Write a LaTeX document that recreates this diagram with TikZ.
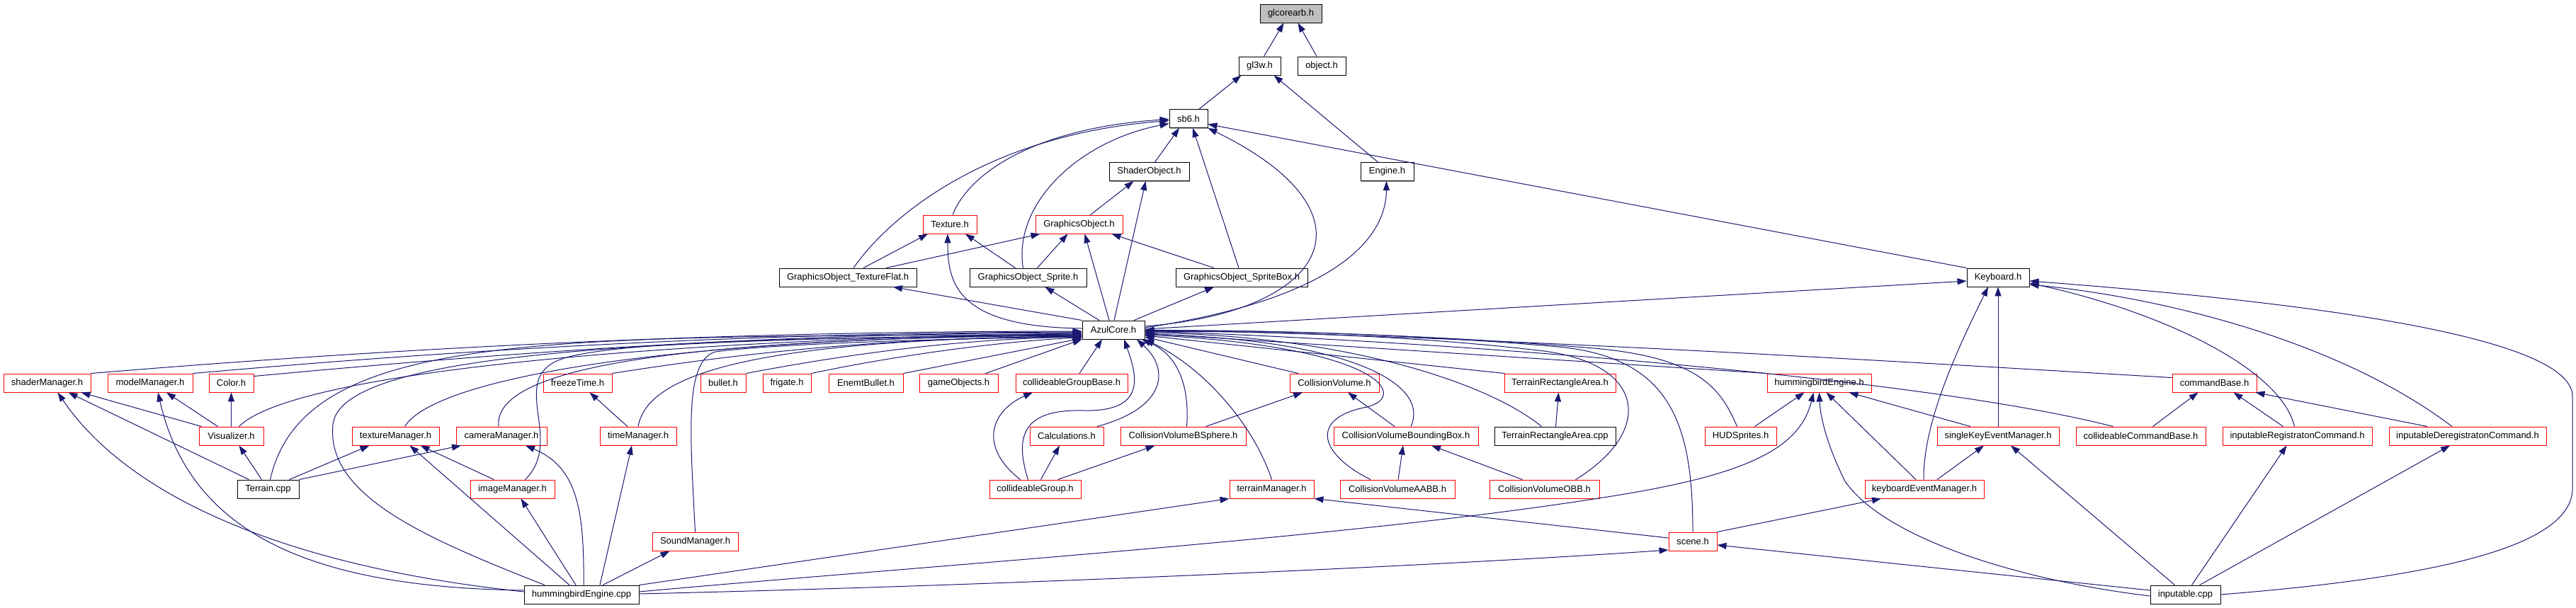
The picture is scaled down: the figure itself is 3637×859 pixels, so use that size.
\documentclass[tikz,border=0pt]{standalone}
\usepackage{fontspec}
\setmainfont{Liberation Sans}
\usetikzlibrary{arrows.meta,shadows}
\definecolor{edgec}{HTML}{191970}
\definecolor{redb}{HTML}{FF0000}
\begin{document}
\begin{tikzpicture}[x=1pt,y=-1pt,
  nbase/.style={line width=0.9pt, fill=white, minimum height=26pt, inner sep=0pt, font=\fontsize{13pt}{15pt}\selectfont},
  bbox/.style={nbase, draw=black, drop shadow={shadow xshift=1.2pt, shadow yshift=-1.2pt, fill=gray!70, opacity=1}},
  rbox/.style={nbase, draw=redb, drop shadow={shadow xshift=1.2pt, shadow yshift=-1.2pt, fill=redb!45, opacity=1}},
  gbox/.style={bbox, fill=gray!50},
  dep/.style={draw=edgec, line width=1pt, -{Triangle[length=13pt,width=9pt]}}]
\fill[white] (0,0) rectangle (3637,859);
\useasboundingbox (0,0) rectangle (3637,859);

% ---------- nodes ----------
\node[gbox, minimum width=87pt] (glcore) at (1822.5,19) {glcorearb.h};
\node[bbox, minimum width=59pt] (gl3w) at (1778.5,93) {gl3w.h};
\node[bbox, minimum width=68pt] (object) at (1866,93) {object.h};
\node[bbox, minimum width=54pt] (sb6) at (1678,167.5) {sb6.h};
\node[bbox, minimum width=113pt] (shaderobj) at (1622.5,242.5) {ShaderObject.h};
\node[bbox, minimum width=75pt] (engine) at (1958.5,242.5) {Engine.h};
\node[rbox, minimum width=76pt] (texture) at (1341,317) {Texture.h};
\node[rbox, minimum width=123pt] (gobj) at (1523.5,317) {GraphicsObject.h};
\node[bbox, minimum width=194pt] (gotf) at (1197,392) {GraphicsObject\_TextureFlat.h};
\node[bbox, minimum width=165pt] (gosprite) at (1451.5,392) {GraphicsObject\_Sprite.h};
\node[bbox, minimum width=186pt] (gospritebox) at (1753,392) {GraphicsObject\_SpriteBox.h};
\node[bbox, minimum width=88pt] (keyboard) at (2821,392) {Keyboard.h};
\node[bbox, minimum width=88pt] (azul) at (1572,466) {AzulCore.h};

\node[rbox, minimum width=123pt] (shaderMgr) at (66.5,541) {shaderManager.h};
\node[rbox, minimum width=120pt] (modelMgr) at (212,541) {modelManager.h};
\node[rbox, minimum width=63pt] (color) at (326.5,541) {Color.h};
\node[rbox, minimum width=97pt] (freeze) at (815.5,541) {freezeTime.h};
\node[rbox, minimum width=64pt] (bullet) at (1021,541) {bullet.h};
\node[rbox, minimum width=68pt] (frigate) at (1111,541) {frigate.h};
\node[rbox, minimum width=105pt] (enemt) at (1222.5,541) {EnemtBullet.h};
\node[rbox, minimum width=111pt] (gameobj) at (1353.5,541) {gameObjects.h};
\node[rbox, minimum width=158pt] (cgbase) at (1513,541) {collideableGroupBase.h};
\node[rbox, minimum width=126pt] (cvol) at (1884,541) {CollisionVolume.h};
\node[rbox, minimum width=157pt] (trah) at (2202.5,541) {TerrainRectangleArea.h};
\node[rbox, minimum width=147pt] (hbeh) at (2568.5,541) {hummingbirdEngine.h};
\node[rbox, minimum width=119pt] (cmdbase) at (3126.5,541) {commandBase.h};

\node[rbox, minimum width=91pt] (visual) at (326.5,616) {Visualizer.h};
\node[rbox, minimum width=123pt] (texmgr) at (558.5,616) {textureManager.h};
\node[rbox, minimum width=128pt] (cammgr) at (708,616) {cameraManager.h};
\node[rbox, minimum width=108pt] (timemgr) at (901,616) {timeManager.h};
\node[rbox, minimum width=104pt] (calc) at (1506,616) {Calculations.h};
\node[rbox, minimum width=177pt] (bsphere) at (1670.5,616) {CollisionVolumeBSphere.h};
\node[rbox, minimum width=204pt] (cvbb) at (1985,616) {CollisionVolumeBoundingBox.h};
\node[bbox, minimum width=171pt] (tracpp) at (2195.5,616) {TerrainRectangleArea.cpp};
\node[rbox, minimum width=101pt] (hud) at (2457.5,616) {HUDSprites.h};
\node[rbox, minimum width=172pt] (singlekey) at (2821,616) {singleKeyEventManager.h};
\node[rbox, minimum width=183pt] (ccbase) at (3022.5,616) {collideableCommandBase.h};
\node[rbox, minimum width=211pt] (ireg) at (3243.5,616) {inputableRegistratonCommand.h};
\node[rbox, minimum width=222pt] (idereg) at (3484,616) {inputableDeregistratonCommand.h};

\node[bbox, minimum width=87pt] (terrain) at (378.5,691) {Terrain.cpp};
\node[rbox, minimum width=119pt] (imagemgr) at (723.5,691) {imageManager.h};
\node[rbox, minimum width=129pt] (cgroup) at (1461.5,691) {collideableGroup.h};
\node[rbox, minimum width=119pt] (terrainmgr) at (1795.5,691) {terrainManager.h};
\node[rbox, minimum width=162pt] (aabb) at (1973,691) {CollisionVolumeAABB.h};
\node[rbox, minimum width=155pt] (obb) at (2180.5,691) {CollisionVolumeOBB.h};
\node[rbox, minimum width=168pt] (kem) at (2717,691) {keyboardEventManager.h};

\node[rbox, minimum width=121pt] (sound) at (981.5,765) {SoundManager.h};
\node[rbox, minimum width=68pt] (scene) at (2390,765) {scene.h};

\node[bbox, minimum width=162pt] (hbcpp) at (821,840) {hummingbirdEngine.cpp};
\node[bbox, minimum width=99pt] (inputable) at (3085.5,840) {inputable.cpp};

% ---------- top edges ----------
\draw[dep] ([xshift=6pt]gl3w.north) -- ([xshift=-10pt]glcore.south);
\draw[dep] ([xshift=-7pt]object.north) -- ([xshift=10pt]glcore.south);
\draw[dep] ([xshift=15pt]sb6.north) -- ([xshift=-26pt]gl3w.south);
\draw[dep] ([xshift=-13pt]engine.north) -- ([xshift=20pt]gl3w.south);
\draw[dep] ([xshift=8pt]shaderobj.north) -- ([xshift=-13pt]sb6.south);
\draw[dep] ([xshift=-4pt]gospritebox.north) -- ([xshift=6pt]sb6.south);
\draw[dep] ([xshift=8pt]gotf.north) .. controls (1260,300) and (1400,190) .. ([yshift=-3pt]sb6.west);
\draw[dep] ([xshift=4pt]texture.north) .. controls (1370,240) and (1470,180) .. ([yshift=-1pt]sb6.west);
\draw[dep] ([xshift=-7pt]gosprite.north) .. controls (1430,290) and (1520,200) .. ([yshift=-7pt]sb6.west);
\draw[dep] ([yshift=5pt]azul.east) .. controls (1880,440) and (1950,300) .. (sb6.south east);
\draw[dep] (keyboard.north west) -- ([yshift=-8pt]sb6.east);
\draw[dep] ([yshift=3pt]azul.east) .. controls (1900,420) and (1957,330) .. ([xshift=-1pt]engine.south);
\draw[dep] ([xshift=16pt]gobj.north) -- ([xshift=-22pt]shaderobj.south);
\draw[dep] ([xshift=1pt]azul.north) -- ([xshift=-5pt]shaderobj.south);
\draw[dep] ([xshift=22pt]gotf.north) -- ([xshift=-31pt]texture.south);
\draw[dep] ([xshift=-18pt]gosprite.north) -- ([xshift=22pt]texture.south);
\draw[dep] ([yshift=2pt]azul.west) .. controls (1350,462) and (1338,400) .. ([xshift=-3pt]texture.south);
\draw[dep] ([xshift=54pt]gotf.north) -- ([xshift=-55pt]gobj.south);
\draw[dep] ([xshift=13pt]gosprite.north) -- ([xshift=-16pt]gobj.south);
\draw[dep] ([xshift=-6pt]azul.north) -- ([xshift=8pt]gobj.south);
\draw[dep] ([xshift=-39pt]gospritebox.north) -- ([xshift=46pt]gobj.south);
\draw[dep] (azul.north west) -- ([xshift=64pt]gotf.south);
\draw[dep] ([xshift=-20pt]azul.north) -- ([xshift=24pt]gosprite.south);
\draw[dep] ([xshift=29pt]azul.north) -- ([xshift=-39pt]gospritebox.south);
\draw[dep] ([yshift=1pt]azul.east) -- ([yshift=-5pt]keyboard.west);

% ---------- into AzulCore from the left ----------
\draw[dep] (shaderMgr.north east) .. controls (700,480) and (1150,468) .. ([yshift=-2pt]azul.west);
\draw[dep] (modelMgr.north east) .. controls (750,485) and (1150,470) .. ([yshift=-3pt]azul.west);
\draw[dep] ([yshift=-4pt]color.north east) .. controls (800,490) and (1150,471) .. ([yshift=-4pt]azul.west);
\draw[dep] ([xshift=11pt]visual.north) .. controls (420,520) and (1000,478) .. ([yshift=-5pt]azul.west);
\draw[dep] ([xshift=3pt]terrain.north) .. controls (430,460) and (800,478) .. ([yshift=-6pt]azul.west);
\draw[dep] ([xshift=-52pt]hbcpp.north) .. controls (600,760) and (460,700) .. (470,600) .. controls (480,500) and (900,478) .. ([yshift=-7pt]azul.west);
\draw[dep] ([xshift=13pt]texmgr.north) .. controls (610,540) and (900,478) .. ([yshift=-7pt]azul.west);
\draw[dep] ([xshift=-4pt]cammgr.north) .. controls (695,520) and (950,478) .. ([yshift=-8pt]azul.west);
\draw[dep] ([xshift=18pt]imagemgr.north) .. controls (800,620) and (710,530) .. (800,505) .. controls (890,480) and (1200,476) .. ([yshift=-8pt]azul.west);
\draw[dep] (freeze.north east) .. controls (1100,490) and (1300,477) .. ([yshift=-9pt]azul.west);
\draw[dep] (timemgr.north) .. controls (915,520) and (1100,480) .. ([yshift=-9pt]azul.west);
\draw[dep] (sound.north) .. controls (975,620) and (965,510) .. (1010,497) .. controls (1100,485) and (1350,478) .. ([yshift=-10pt]azul.west);
\draw[dep] (bullet.north east) .. controls (1250,490) and (1400,478) .. ([yshift=-10pt]azul.west);
\draw[dep] (frigate.north east) .. controls (1300,495) and (1450,480) .. ([yshift=-11pt]azul.west);
\draw[dep] (enemt.north east) -- ([yshift=-12pt]azul.west);
\draw[dep] ([xshift=-18pt]gameobj.north east) -- (azul.south west);

% ---------- into AzulCore from below ----------
\draw[dep] ([xshift=11pt]cgbase.north) -- ([xshift=-16pt]azul.south);
\draw[dep] ([xshift=-21pt]cgroup.north) .. controls (1380,630) and (1400,580) .. ([xshift=-55pt]cgbase.south);
\draw[dep] ([xshift=-10pt]cgroup.north) .. controls (1430,610) and (1450,578) .. (1530,580) .. controls (1620,582) and (1605,530) .. ([xshift=15pt]azul.south);
\draw[dep] ([xshift=8pt]cgroup.north) -- ([xshift=-10pt]calc.south);
\draw[dep] ([xshift=32pt]cgroup.north) -- ([xshift=-40pt]bsphere.south);
\draw[dep] ([xshift=43pt]calc.north) .. controls (1650,575) and (1650,520) .. ([xshift=33pt]azul.south);
\draw[dep] ([xshift=5pt]bsphere.north) .. controls (1680,540) and (1660,500) .. ([xshift=40pt]azul.south);
\draw[dep] ([xshift=32pt]bsphere.north) -- ([xshift=-45pt]cvol.south);
\draw[dep] (terrainmgr.north) .. controls (1770,600) and (1700,520) .. (azul.south east);

% ---------- into AzulCore from the right ----------
\draw[dep] ([xshift=-51pt]cvol.north) -- ([yshift=-10pt]azul.east);
\draw[dep] ([xshift=-16pt]cvbb.north) -- ([xshift=19pt]cvol.south);
\draw[dep] ([xshift=7pt]cvbb.north) .. controls (2020,540) and (1900,480) .. ([yshift=-6pt]azul.east);
\draw[dep] ([xshift=-38pt]aabb.north) .. controls (1860,640) and (1850,590) .. (1930,575) .. controls (1990,560) and (1950,490) .. ([yshift=-7pt]azul.east);
\draw[dep] ([xshift=1pt]aabb.north) -- ([xshift=-4pt]cvbb.south);
\draw[dep] ([xshift=-31pt]obb.north) -- ([xshift=36pt]cvbb.south);
\draw[dep] ([xshift=44pt]obb.north) .. controls (2335,610) and (2325,515) .. (2180,496) .. controls (1980,472) and (1750,467) .. ([yshift=-3pt]azul.east);
\draw[dep] ([xshift=-78pt]trah.north) -- ([yshift=-8pt]azul.east);
\draw[dep] ([xshift=1pt]tracpp.north) -- ([xshift=-2pt]trah.south);
\draw[dep] ([xshift=-19pt]tracpp.north) .. controls (2100,540) and (1900,475) .. ([yshift=-4pt]azul.east);
\draw[dep] (scene.north) .. controls (2390,600) and (2360,505) .. (2200,490) .. controls (2000,472) and (1750,465) .. ([yshift=-2pt]azul.east);
\draw[dep] ([xshift=-5pt]hud.north) .. controls (2430,550) and (2400,505) .. (2250,492) .. controls (2050,475) and (1800,466) .. ([yshift=-1pt]azul.east);
\draw[dep] ([xshift=20pt]hud.north) -- ([xshift=-21pt]hbeh.south);
\draw[dep] ([xshift=-73pt]hbeh.north) -- ([yshift=-5pt]azul.east);
\draw[dep] ([yshift=-6pt]cmdbase.north west) .. controls (2700,512) and (2100,475) .. (azul.east);
\draw[dep] ([xshift=-39pt]ccbase.north) .. controls (2700,530) and (2000,480) .. ([yshift=-2pt]azul.east);

% ---------- right part ----------
\draw[dep] ([xshift=-12pt]kem.north) -- ([xshift=10pt]hbeh.south);
\draw[dep] ([xshift=-39pt]singlekey.north) -- ([xshift=42pt]hbeh.south);
\draw[dep] ([yshift=4pt]hbcpp.east) .. controls (1300,800) and (1900,760) .. (2250,705) .. controls (2450,675) and (2540,640) .. ([xshift=-8pt]hbeh.south);
\draw[dep] ([yshift=-2pt]inputable.west) .. controls (2850,820) and (2660,760) .. (2605,680) .. controls (2580,630) and (2570,590) .. (hbeh.south);
\draw[dep] (singlekey.north) -- (keyboard.south);
\draw[dep] ([xshift=-1pt]kem.north) .. controls (2715,600) and (2760,500) .. ([xshift=-14pt]keyboard.south);
\draw[dep] ([xshift=18pt]kem.north) -- ([xshift=-20pt]singlekey.south);
\draw[dep] (scene.north east) -- ([xshift=-61pt]kem.south);
\draw[dep] ([yshift=5pt]scene.west) -- (terrainmgr.south east);
\draw[dep] (hbcpp.north east) -- (terrainmgr.south west);
\draw[dep] ([yshift=1pt]hbcpp.east) .. controls (1500,825) and (2100,795) .. ([yshift=-12pt]scene.west);
\draw[dep] ([yshift=6pt]inputable.west) -- ([yshift=-5pt]scene.east);
\draw[dep] ([xshift=-15pt]inputable.north) -- ([xshift=18pt]singlekey.south);
\draw[dep] ([xshift=9pt]inputable.north) -- ([xshift=-15pt]ireg.south);
\draw[dep] ([xshift=20pt]inputable.north) -- ([xshift=-25pt]idereg.south);
\draw[dep] (inputable.east) .. controls (3450,815) and (3632,770) .. (3632,690) -- (3632,560) .. controls (3632,480) and (3300,430) .. ([yshift=-5pt]keyboard.east);
\draw[dep] ([xshift=-4pt]ireg.north) .. controls (3220,520) and (3050,440) .. ([yshift=-8pt]keyboard.east);
\draw[dep] ([xshift=-22pt]idereg.north) .. controls (3300,480) and (3050,420) .. ([yshift=-10pt]keyboard.east);
\draw[dep] ([xshift=-20pt]ireg.north) -- ([xshift=27pt]cmdbase.south);
\draw[dep] ([xshift=-57pt]idereg.north) -- ([xshift=58pt]cmdbase.south);
\draw[dep] ([xshift=17pt]ccbase.north) -- ([xshift=-23pt]cmdbase.south);

% ---------- lower left ----------
\draw[dep] ([xshift=-42pt]visual.north) -- ([xshift=48pt]shaderMgr.south);
\draw[dep] ([xshift=-19pt]visual.north) -- ([xshift=23pt]modelMgr.south);
\draw[dep] (visual.north) -- (color.south);
\draw[dep] ([xshift=-27pt]terrain.north) -- ([xshift=30pt]shaderMgr.south);
\draw[dep] ([xshift=-9pt]terrain.north) -- ([xshift=11pt]visual.south);
\draw[dep] ([xshift=30pt]terrain.north) -- ([xshift=-37pt]texmgr.south);
\draw[dep] (terrain.north east) -- ([xshift=-57pt]cammgr.south);
\draw[dep] ([yshift=4pt]hbcpp.west) .. controls (400,800) and (180,700) .. ([xshift=15pt]shaderMgr.south);
\draw[dep] ([yshift=6pt]hbcpp.west) .. controls (450,830) and (270,760) .. ([xshift=11pt]modelMgr.south);
\draw[dep] ([xshift=-17pt]hbcpp.north) -- ([xshift=20pt]texmgr.south);
\draw[dep] ([xshift=-26pt]imagemgr.north) -- ([xshift=35pt]texmgr.south);
\draw[dep] ([xshift=-8pt]hbcpp.north) -- ([xshift=12pt]imagemgr.south);
\draw[dep] ([xshift=3pt]hbcpp.north) .. controls (825,720) and (815,660) .. ([xshift=34pt]cammgr.south);
\draw[dep] ([xshift=-15pt]timemgr.north) -- ([xshift=17pt]freeze.south);
\draw[dep] ([xshift=26pt]hbcpp.north) -- ([xshift=-9pt]timemgr.south);
\draw[dep] ([xshift=30pt]hbcpp.north) -- ([xshift=-36pt]sound.south);
\end{tikzpicture}
\end{document}
